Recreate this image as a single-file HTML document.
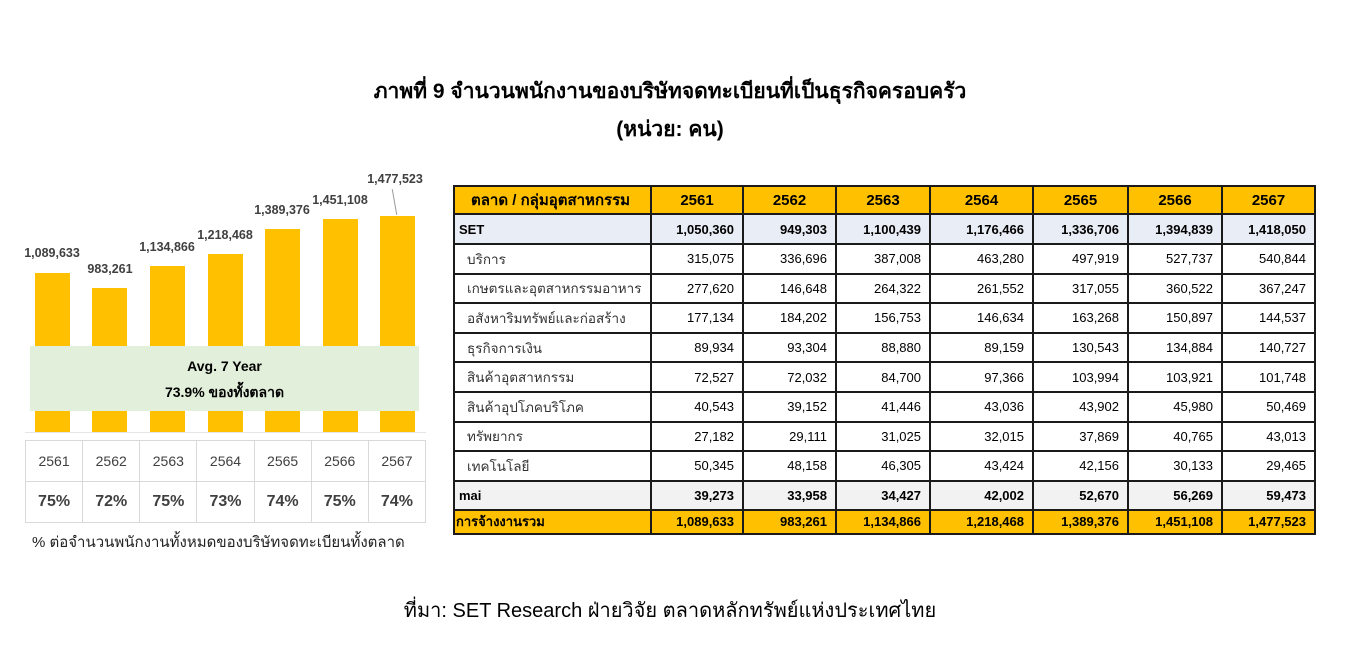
<!DOCTYPE html>
<html><head><meta charset="utf-8"><style>
*{margin:0;padding:0;box-sizing:border-box}
body{width:1362px;height:649px;background:#fff;position:relative;font-family:"Liberation Sans",sans-serif;overflow:hidden;color:#000}
.a{position:absolute;white-space:nowrap}
.title{left:0;width:1340px;text-align:center;font-weight:bold;font-size:21px}
.bar{position:absolute;background:#ffc000;width:35px}
.lbl{position:absolute;width:100px;text-align:center;font-size:12.5px;font-weight:bold;color:#404040}
table{position:absolute;border-collapse:collapse;table-layout:fixed}
#t{left:453px;top:185px;width:861px;font-size:13px}
#t td{border:2px solid #1a1a1a;text-align:right;padding:0 8px;overflow:hidden;white-space:nowrap}
#t td:first-child{text-align:left;padding-left:4px}
#t tr.h td{background:#ffc000;font-weight:bold;font-size:15px;text-align:center;height:28px}
#t tr.s td{background:#e9edf5;font-weight:bold;height:30px}
#t tr.r td{height:29.6px}
#t tr.r td:first-child{padding-left:12px;color:#333;font-size:13.5px}
#t tr.m td{background:#f2f2f2;font-weight:bold;height:29px}
#t tr.tot td{background:#ffc000;font-weight:bold;height:24px}
#l{left:25px;top:440px;width:401px;color:#404040}
#l td{border:1.5px solid #d9d9d9;text-align:center;height:41px}
#l tr:first-child td{font-size:14px}
#l tr:last-child td{font-size:16px;font-weight:bold}
</style></head><body>
<div class="a title" style="top:75px">ภาพที่ 9 จำนวนพนักงานของบริษัทจดทะเบียนที่เป็นธุรกิจครอบครัว</div>
<div class="a title" style="top:113px">(หน่วย: คน)</div>

<div class="bar" style="left:35px;top:273px;height:159px"></div>
<div class="bar" style="left:92px;top:288px;height:144px"></div>
<div class="bar" style="left:150px;top:266px;height:166px"></div>
<div class="bar" style="left:208px;top:254px;height:178px"></div>
<div class="bar" style="left:265px;top:229px;height:203px"></div>
<div class="bar" style="left:323px;top:219px;height:213px"></div>
<div class="bar" style="left:380px;top:216px;height:216px"></div>
<div style="position:absolute;left:25px;top:432px;width:401px;height:1px;background:#e6e6e6"></div>
<div class="lbl" style="left:2px;top:246px">1,089,633</div>
<div class="lbl" style="left:60px;top:262px">983,261</div>
<div class="lbl" style="left:117px;top:240px">1,134,866</div>
<div class="lbl" style="left:175px;top:228px">1,218,468</div>
<div class="lbl" style="left:232px;top:203px">1,389,376</div>
<div class="lbl" style="left:290px;top:193px">1,451,108</div>
<div class="lbl" style="left:345px;top:172px">1,477,523</div>
<div style="position:absolute;left:394px;top:189px;width:1px;height:26px;background:#999;transform:rotate(-10deg)"></div>
<div class="a" style="left:30px;top:346px;width:389px;height:65px;background:#e2efda;text-align:center;font-weight:bold;font-size:14px;line-height:26px;padding-top:7px">Avg. 7 Year<br>73.9% ของทั้งตลาด</div>
<table id="l"><tr><td>2561</td><td>2562</td><td>2563</td><td>2564</td><td>2565</td><td>2566</td><td>2567</td></tr>
<tr><td>75%</td><td>72%</td><td>75%</td><td>73%</td><td>74%</td><td>75%</td><td>74%</td></tr></table>
<div class="a" style="left:32px;top:530px;font-size:15px;color:#222">% ต่อจำนวนพนักงานทั้งหมดของบริษัทจดทะเบียนทั้งตลาด</div>

<table id="t">
<colgroup><col style="width:197px"><col style="width:92px"><col style="width:93px"><col style="width:94px"><col style="width:103px"><col style="width:95px"><col style="width:94px"><col style="width:93px"></colgroup>
<tr class="h"><td style="text-align:center">ตลาด / กลุ่มอุตสาหกรรม</td><td>2561</td><td>2562</td><td>2563</td><td>2564</td><td>2565</td><td>2566</td><td>2567</td></tr>
<tr class="s"><td>SET</td><td>1,050,360</td><td>949,303</td><td>1,100,439</td><td>1,176,466</td><td>1,336,706</td><td>1,394,839</td><td>1,418,050</td></tr>
<tr class="r"><td>บริการ</td><td>315,075</td><td>336,696</td><td>387,008</td><td>463,280</td><td>497,919</td><td>527,737</td><td>540,844</td></tr>
<tr class="r"><td>เกษตรและอุตสาหกรรมอาหาร</td><td>277,620</td><td>146,648</td><td>264,322</td><td>261,552</td><td>317,055</td><td>360,522</td><td>367,247</td></tr>
<tr class="r"><td>อสังหาริมทรัพย์และก่อสร้าง</td><td>177,134</td><td>184,202</td><td>156,753</td><td>146,634</td><td>163,268</td><td>150,897</td><td>144,537</td></tr>
<tr class="r"><td>ธุรกิจการเงิน</td><td>89,934</td><td>93,304</td><td>88,880</td><td>89,159</td><td>130,543</td><td>134,884</td><td>140,727</td></tr>
<tr class="r"><td>สินค้าอุตสาหกรรม</td><td>72,527</td><td>72,032</td><td>84,700</td><td>97,366</td><td>103,994</td><td>103,921</td><td>101,748</td></tr>
<tr class="r"><td>สินค้าอุปโภคบริโภค</td><td>40,543</td><td>39,152</td><td>41,446</td><td>43,036</td><td>43,902</td><td>45,980</td><td>50,469</td></tr>
<tr class="r"><td>ทรัพยากร</td><td>27,182</td><td>29,111</td><td>31,025</td><td>32,015</td><td>37,869</td><td>40,765</td><td>43,013</td></tr>
<tr class="r"><td>เทคโนโลยี</td><td>50,345</td><td>48,158</td><td>46,305</td><td>43,424</td><td>42,156</td><td>30,133</td><td>29,465</td></tr>
<tr class="m"><td>mai</td><td>39,273</td><td>33,958</td><td>34,427</td><td>42,002</td><td>52,670</td><td>56,269</td><td>59,473</td></tr>
<tr class="tot"><td style="padding-left:1px">การจ้างงานรวม</td><td>1,089,633</td><td>983,261</td><td>1,134,866</td><td>1,218,468</td><td>1,389,376</td><td>1,451,108</td><td>1,477,523</td></tr>
</table>

<div class="a" style="left:0;width:1340px;text-align:center;top:594px;font-size:20px">ที่มา: SET Research ฝ่ายวิจัย ตลาดหลักทรัพย์แห่งประเทศไทย</div>
</body></html>
